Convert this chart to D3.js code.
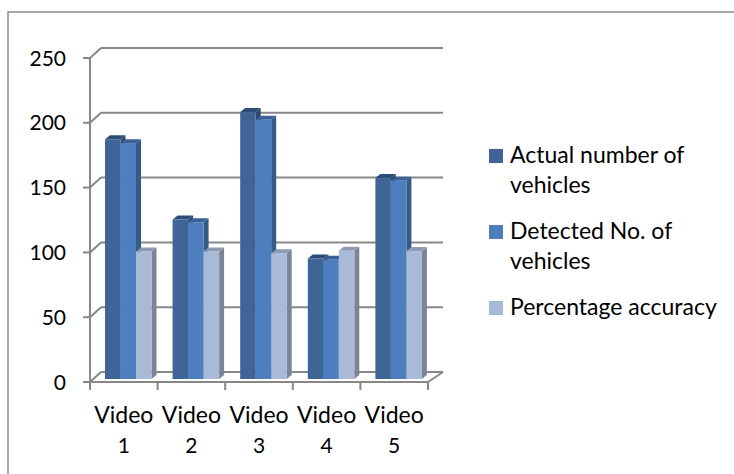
<!DOCTYPE html>
<html lang="en">
<head>
    <meta charset="UTF-8">
    <title>Vehicles per video</title>
    <style>
        body {
            margin: 0;
            padding: 0;
            background: #fff;
        }
        svg {
            display: block;
            font-family: Lato, "Liberation Sans", sans-serif;
        }
    </style>
</head>
<body>
    <div id="chart"></div>

    <script src="https://d3js.org/d3.v7.min.js"></script>
    <script>
        // chart data
        const videos = ["Video 1", "Video 2", "Video 3", "Video 4", "Video 5"];
        const seriesNames = ["Actual number of vehicles", "Detected No. of vehicles", "Percentage accuracy"];
        const actual = [185, 123, 206, 93, 155];
        const detected = [182, 121, 200, 92, 153];
        const accuracy = [98.4, 98.4, 97.1, 98.9, 98.7];
        const yTicks = [0, 50, 100, 150, 200, 250];

        const seriesValues = [actual, detected, accuracy];
        // front, top, side shade for each series
        const colors = [
            { front: "#3e6596", top: "#2d4d75", side: "#2c4a70" },
            { front: "#4d7fbe", top: "#3a6296", side: "#345a88" },
            { front: "#a9b9d8", top: "#8c9ab3", side: "#7b8596" }
        ];

        const width = 734, height = 474;
        const depth = { dx: 11, dy: -10 };   // back wall offset
        const barDepth = { dx: 5, dy: -4 };  // bar thickness

        const svg = d3.select("#chart")
            .append("svg")
            .attr("width", width)
            .attr("height", height);

        // outer frame (left and top only visible)
        svg.append("path")
            .attr("d", "M8,474 V12 H734")
            .attr("fill", "none")
            .attr("stroke", "#8c8c8c")
            .attr("stroke-width", 1.5);

        const x = d3.scaleBand()
            .domain(videos)
            .range([90, 428]);

        const xInner = d3.scaleBand()
            .domain(seriesNames)
            .range([15, 61.5]);

        const y = d3.scaleLinear()
            .domain([0, 250])
            .range([382, 58]);

        // bars stand a little into the floor
        const yBar = d3.scaleLinear()
            .domain([0, 250])
            .range([379, 55]);

        const grid = svg.append("g")
            .attr("stroke", "#878787")
            .attr("stroke-width", 2)
            .attr("fill", "none");

        // back wall gridlines + side wall diagonals + ticks
        yTicks.forEach(t => {
            const yy = y(t);
            grid.append("line")
                .attr("x1", 90 + depth.dx).attr("x2", 428 + depth.dx + 4)
                .attr("y1", yy + depth.dy).attr("y2", yy + depth.dy);
            grid.append("line")
                .attr("x1", 90).attr("x2", 90 + depth.dx)
                .attr("y1", yy).attr("y2", yy + depth.dy);
            grid.append("line")
                .attr("x1", 83).attr("x2", 90)
                .attr("y1", yy).attr("y2", yy);
        });

        // vertical axis line
        grid.append("line")
            .attr("x1", 90).attr("x2", 90)
            .attr("y1", y(250)).attr("y2", y(0));

        // floor front edge
        grid.append("path")
            .attr("d", `M83,${y(0)} H428 L${428 + depth.dx + 4},${y(0) + depth.dy}`);

        // category ticks
        const catEdges = videos.map(v => x(v)).concat([x.range()[1]]);
        catEdges.forEach(cx => {
            grid.append("line")
                .attr("x1", cx).attr("x2", cx)
                .attr("y1", y(0)).attr("y2", y(0) + 8);
        });

        // y tick labels
        svg.append("g")
            .selectAll("text")
            .data(yTicks)
            .enter()
            .append("text")
            .attr("x", 66)
            .attr("y", d => y(d))
            .attr("dy", "0.36em")
            .attr("text-anchor", "end")
            .attr("font-size", 21)
            .attr("fill", "#000")
            .text(d => d);

        // bars
        const bars = svg.append("g");
        videos.forEach((v, i) => {
            seriesNames.forEach((s, j) => {
                const val = seriesValues[j][i];
                const x0 = x(v) + xInner(s);
                const w = xInner.bandwidth();
                const y0 = yBar(val);
                const yb = yBar(0);
                const c = colors[j];
                const dx = barDepth.dx, dy = barDepth.dy;

                bars.append("path")
                    .attr("d", `M${x0 + w},${yb} L${x0 + w + dx},${yb + dy} L${x0 + w + dx},${y0 + dy} L${x0 + w},${y0} Z`)
                    .attr("fill", c.side);
                bars.append("path")
                    .attr("d", `M${x0},${y0} L${x0 + dx},${y0 + dy} L${x0 + w + dx},${y0 + dy} L${x0 + w},${y0} Z`)
                    .attr("fill", c.top);
                bars.append("rect")
                    .attr("x", x0)
                    .attr("y", y0)
                    .attr("width", w)
                    .attr("height", yb - y0)
                    .attr("fill", c.front);
            });
        });

        // category labels, two lines
        const catLabels = svg.append("g")
            .attr("font-size", 23)
            .attr("fill", "#000")
            .attr("text-anchor", "middle");
        videos.forEach(v => {
            const parts = v.split(" ");
            const cx = x(v) + x.bandwidth() / 2;
            const t = catLabels.append("text");
            t.append("tspan").attr("x", cx).attr("y", 423).text(parts[0]);
            t.append("tspan").attr("x", cx).attr("y", 453).attr("font-size", 21).text(parts[1]);
        });

        // legend
        const legendRows = [
            { lines: ["Actual number of", "vehicles"], y: 163 },
            { lines: ["Detected No. of", "vehicles"], y: 239 },
            { lines: ["Percentage accuracy"], y: 315 }
        ];
        const legend = svg.append("g")
            .attr("font-size", 23)
            .attr("fill", "#000");
        legendRows.forEach((r, i) => {
            legend.append("rect")
                .attr("x", 489)
                .attr("y", r.y - 14)
                .attr("width", 14)
                .attr("height", 14)
                .attr("fill", colors[i].front);
            const t = legend.append("text");
            r.lines.forEach((ln, k) => {
                t.append("tspan")
                    .attr("x", 510)
                    .attr("y", r.y + k * 30)
                    .text(ln);
            });
        });
    </script>
</body>
</html>
